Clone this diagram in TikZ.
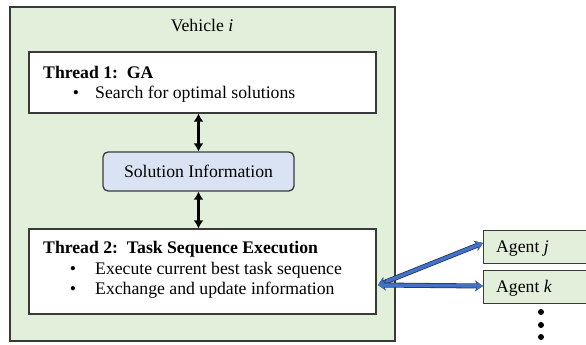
\documentclass[tikz,border=0pt]{standalone}
\usepackage{fontspec}
\setmainfont{Liberation Serif}
\usetikzlibrary{arrows.meta}
\definecolor{vgreen}{HTML}{E2EFDA}
\definecolor{sblue}{HTML}{DAE3F3}
\definecolor{edgegray}{HTML}{3A3A3A}
\definecolor{arrblue}{HTML}{4472C4}
\definecolor{arrnavy}{HTML}{1F3864}
\tikzset{
  box/.style={draw=edgegray, line width=1.3pt, inner sep=0pt},
  txt/.style={inner sep=0pt, font=\fontsize{17.7}{20}\selectfont},
  blk/.style={{Latex[length=8pt,width=10pt]}-{Latex[length=8pt,width=10pt]}, line width=2.6pt, black},
  bluearr/.style={{Stealth[length=7pt,width=9pt]}-{Stealth[length=7pt,width=9pt]}, line width=3.4pt, arrblue,
     preaction={draw=arrnavy, line width=5pt, {Stealth[length=8pt,width=11pt]}-{Stealth[length=8pt,width=11pt]}}},
}
\begin{document}
\begin{tikzpicture}[x=1pt,y=-1pt]
\useasboundingbox (0,0) rectangle (586,345);
\clip (0,0) rectangle (586,345);
\fill[white] (0,0) rectangle (586,345);
% vehicle
\draw[box, fill=vgreen] (10,7) rectangle (395,341);
\node[txt] (veh) at (202,25) {Vehicle \textit{i}};
% thread 1
\node[box, fill=white, minimum width=347pt, minimum height=61pt] (t1) at (202.5,82.5) {};
\node[txt, anchor=base west] (t1title) at (43,78) {\textbf{Thread 1:\ \ GA}};
\node[txt, anchor=base] (t1b) at (76,98) {•};
\node[txt, anchor=base west] (t1s) at (95,98) {Search for optimal solutions};
% solution info
\node[box, fill=sblue, rounded corners=5pt, minimum width=191pt, minimum height=39pt] (sol) at (198.5,171.5) {};
\node[txt] (soltxt) at (198.5,171.5) {Solution Information};
% thread 2
\node[box, fill=white, minimum width=347pt, minimum height=85pt] (t2) at (202.5,271.5) {};
\node[txt, anchor=base west] (t2title) at (43,253) {\textbf{Thread 2:\ \ Task Sequence Execution}};
\node[txt, anchor=base] (t2b1) at (73,274) {•};
\node[txt, anchor=base west] (t2s1) at (95,274) {Execute current best task sequence};
\node[txt, anchor=base] (t2b2) at (73,294) {•};
\node[txt, anchor=base west] (t2s2) at (95,294) {Exchange and update information};
% black arrows
\draw[blk] (sol.north |- t1.south) -- (sol.north);
\draw[blk] (sol.south) -- (sol.south |- t2.north);
% agents
\node[box, fill=vgreen, anchor=north west, minimum width=110pt, minimum height=33pt] (aj) at (483,230) {};
\node[txt, anchor=base west] (ajt) at (496,252) {Agent \textit{j}};
\node[box, fill=vgreen, anchor=north west, minimum width=110pt, minimum height=33pt] (ak) at (483,270) {};
\node[txt, anchor=base west] (akt) at (496,292) {Agent \textit{k}};
% blue arrows
\coordinate (ex) at (378,285);
\draw[bluearr] (ex) -- (aj.west |- 0,243);
\draw[bluearr] (ex) -- (ak.west |- 0,286);
% dots
\fill (541,312) circle (3pt) coordinate (d1);
\fill (541,325) circle (3pt) coordinate (d2);
\fill (541,337) circle (3pt) coordinate (d3);
\end{tikzpicture}
\end{document}
